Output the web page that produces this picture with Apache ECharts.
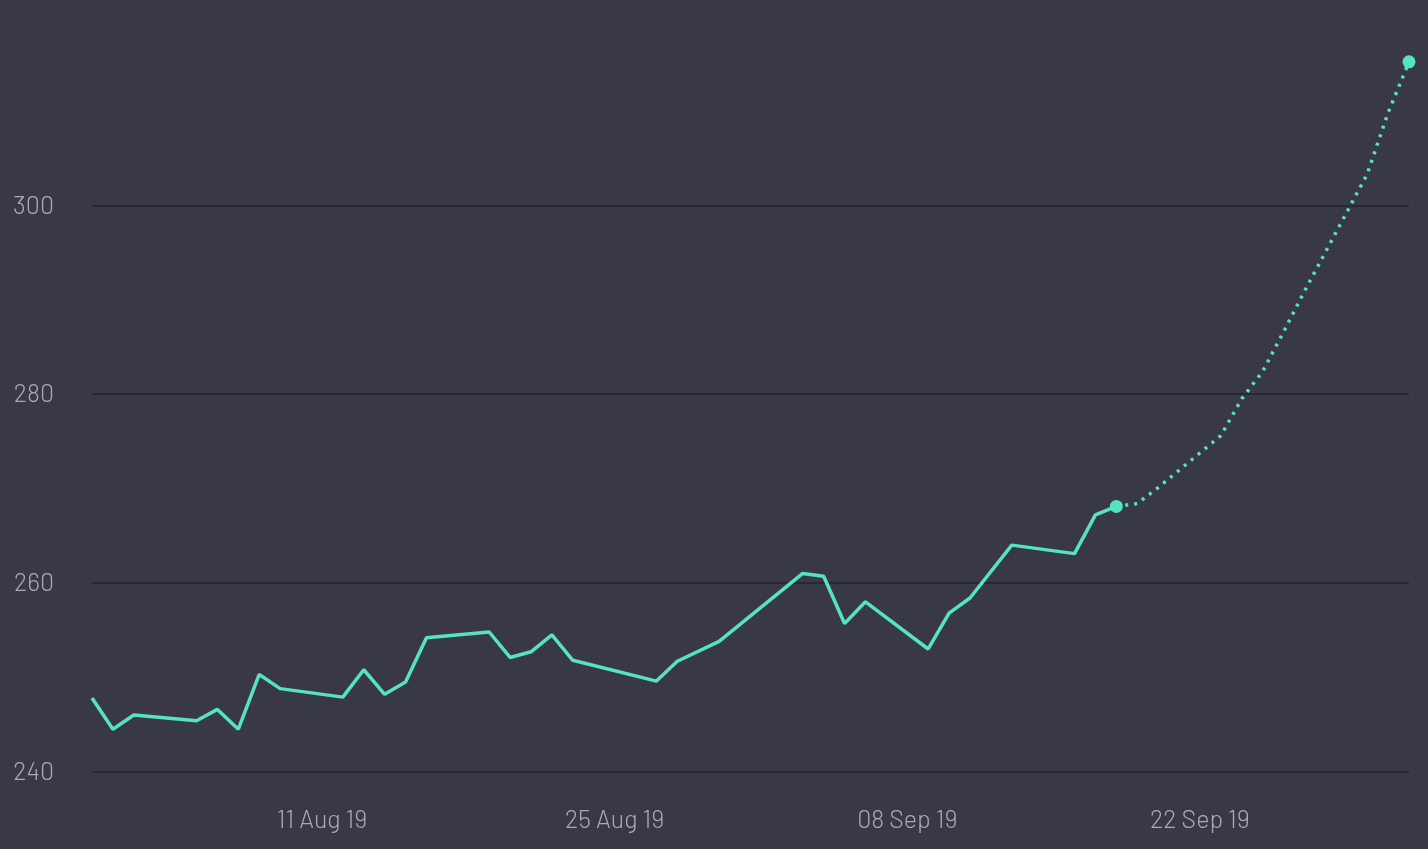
<!DOCTYPE html>
<html>
<head>
<meta charset="utf-8">
<script src="https://cdn.jsdelivr.net/npm/echarts@6/dist/echarts.min.js"></script>
<style>
html,body{margin:0;padding:0;background:#393945;}
#chart{width:1428px;height:849px;}
</style>
</head>
<body>
<div id="chart"></div>
<script>
const actualDates = ['2019-07-31','2019-08-01','2019-08-02','2019-08-05','2019-08-06','2019-08-07','2019-08-08','2019-08-09','2019-08-12','2019-08-13','2019-08-14','2019-08-15','2019-08-16','2019-08-19','2019-08-20','2019-08-21','2019-08-22','2019-08-23','2019-08-27','2019-08-28','2019-08-30','2019-09-03','2019-09-04','2019-09-05','2019-09-06','2019-09-09','2019-09-10','2019-09-11','2019-09-13','2019-09-16','2019-09-17','2019-09-18'];
const actualValues = [247.8,244.5,246.0,245.4,246.6,244.5,250.3,248.8,247.9,250.8,248.2,249.5,254.2,254.8,252.1,252.7,254.5,251.8,249.6,251.7,253.8,261.0,260.7,255.7,258.0,253.0,256.8,258.4,264.0,263.1,267.2,268.1];
const forecastDates = ['2019-09-18','2019-09-19','2019-09-20','2019-09-23','2019-09-24','2019-09-25','2019-09-26','2019-09-27','2019-09-30','2019-10-01','2019-10-02'];
const forecastValues = [268.1,268.4,270.1,275.6,279.5,282.4,286.6,290.9,303.3,309.8,315.2];
const xTickDates = ['2019-08-11','2019-08-25','2019-09-08','2019-09-22'];
const yTicks = [240,260,280,300];
const monthNames = ['Jan','Feb','Mar','Apr','May','Jun','Jul','Aug','Sep','Oct','Nov','Dec'];

function toTs(s){const p=s.split('-').map(Number);return new Date(p[0],p[1]-1,p[2]).getTime();}
const actual = actualDates.map((d,i)=>[toTs(d),actualValues[i]]);
const forecast = forecastDates.map((d,i)=>[toTs(d),forecastValues[i]]);
const endPoints = [actual[actual.length-1], forecast[forecast.length-1]];

const FONT = "Barlow,'DejaVu Sans Condensed',Roboto,sans-serif";
const COLOR = '#55e3c2';
const chart = echarts.init(document.getElementById('chart'));
chart.setOption({
  backgroundColor:'#393945',
  animation:false,
  grid:{left:92,right:19,top:16.5,bottom:77.3,containLabel:false},
  xAxis:{
    type:'value',
    min:toTs('2019-07-31'),
    max:toTs('2019-10-02'),
    axisLine:{show:false},
    axisTick:{show:false},
    splitLine:{show:false},
    axisLabel:{
      customValues:xTickDates.map(toTs),
      color:'#a9a9ba',
      fontFamily:FONT,
      fontSize:25,
      fontWeight:300,
      margin:35,
      formatter:function(v){const d=new Date(v);const dd=String(d.getDate()).padStart(2,'0');return dd+' '+monthNames[d.getMonth()]+' '+String(d.getFullYear()).slice(2);}
    }
  },
  yAxis:{
    type:'value',
    min:240,
    max:320,
    interval:20,
    axisLine:{show:false},
    axisTick:{show:false},
    axisLabel:{
      customValues:yTicks,
      color:'#a9a9ba',
      fontFamily:FONT,
      fontSize:25,
      fontWeight:300,
      margin:38,
      verticalAlign:'middle',
      padding:[3,0,0,0]
    },
    splitLine:{show:true,showMaxLine:false,lineStyle:{color:'#282831',width:2}}
  },
  series:[
    {type:'line',data:actual,showSymbol:false,lineStyle:{color:COLOR,width:3.5},itemStyle:{color:COLOR},z:3},
    {type:'line',data:forecast,showSymbol:false,lineStyle:{color:COLOR,width:3.5,type:[3,6]},itemStyle:{color:COLOR},z:3},
    {type:'scatter',data:endPoints,symbol:'circle',symbolSize:13,itemStyle:{color:COLOR,opacity:1},z:4}
  ]
});
</script>
</body>
</html>
